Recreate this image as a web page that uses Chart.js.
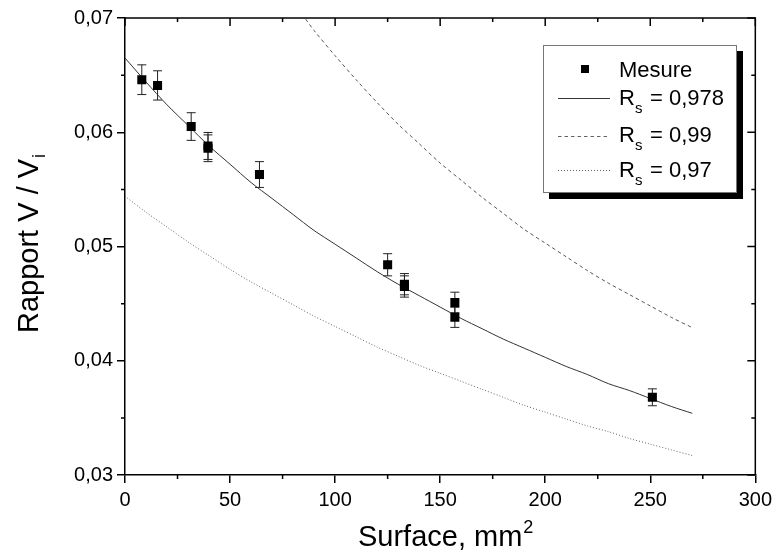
<!DOCTYPE html>
<html>
<head>
<meta charset="utf-8">
<script src="https://cdn.jsdelivr.net/npm/chart.js@4.4.0/dist/chart.umd.min.js"></script>
<style>
  html, body { margin: 0; padding: 0; background: #fff; }
  canvas { display: block; }
</style>
</head>
<body>
<canvas id="chart" width="777" height="551"></canvas>
<script>
// measured points (surface mm2, ratio, error)
const mesureS = [8, 15.5, 31.5, 39.5, 39.5, 64, 125, 133, 133, 157, 157, 251];
const mesureV = [0.0646, 0.0641, 0.0605, 0.0588, 0.0586, 0.0563, 0.0484, 0.0467, 0.0465, 0.0451, 0.0438, 0.0368];
const mesureErr = [0.0013, 0.00128, 0.00121, 0.00118, 0.00117, 0.00113, 0.00097, 0.00093, 0.00093, 0.0009, 0.00088, 0.00074];

// model curves
const curveS = [0, 10, 20, 30, 40, 50, 60, 70, 80, 90, 100, 110, 120, 130, 140, 150, 160, 170, 180, 190, 200, 210, 220, 230, 240, 250, 260, 270];
const rs978 = [0.0665, 0.0644, 0.0624, 0.0606, 0.0588, 0.0572, 0.0556, 0.0542, 0.0528, 0.0514, 0.0502, 0.0490, 0.0478, 0.0467, 0.0457, 0.0447, 0.0437, 0.0428, 0.0419, 0.0411, 0.0403, 0.0395, 0.0388, 0.0380, 0.0374, 0.0367, 0.0360, 0.0354];
const rs97 = [0.0544, 0.0530, 0.0517, 0.0504, 0.0492, 0.0480, 0.0469, 0.0459, 0.0449, 0.0439, 0.0430, 0.0421, 0.0412, 0.0404, 0.0396, 0.0389, 0.0382, 0.0375, 0.0368, 0.0361, 0.0355, 0.0349, 0.0343, 0.0338, 0.0332, 0.0327, 0.0322, 0.0317];
const dashS = [86, 90, 100, 110, 120, 130, 140, 150, 160, 170, 180, 190, 200, 210, 220, 230, 240, 250, 260, 270];
const rs99 = [0.0699, 0.0689, 0.0667, 0.0646, 0.0626, 0.0607, 0.0590, 0.0573, 0.0558, 0.0543, 0.0529, 0.0515, 0.0503, 0.0491, 0.0479, 0.0468, 0.0458, 0.0448, 0.0438, 0.0429];

const legendValues = ['0,978', '0,99', '0,97'];

const FONT = '"Liberation Sans", Arial, sans-serif';

function pts(xs, ys) {
    return xs.map((x, i) => ({x: x, y: ys[i]}));
}

const errorBars = {
    id: 'errorBars',
    beforeDatasetsDraw(chart) {
        const ctx = chart.ctx;
        const sx = chart.scales.x, sy = chart.scales.y;
        ctx.save();
        ctx.strokeStyle = '#222';
        ctx.lineWidth = 1;
        mesureS.forEach((s, i) => {
            const px = sx.getPixelForValue(s);
            const top = sy.getPixelForValue(mesureV[i] + mesureErr[i]);
            const bot = sy.getPixelForValue(mesureV[i] - mesureErr[i]);
            ctx.beginPath();
            ctx.moveTo(px, top); ctx.lineTo(px, bot);
            ctx.moveTo(px - 4.5, top); ctx.lineTo(px + 4.5, top);
            ctx.moveTo(px - 4.5, bot); ctx.lineTo(px + 4.5, bot);
            ctx.stroke();
        });
        ctx.restore();
    }
};

const frame = {
    id: 'frame',
    afterDraw(chart) {
        const ctx = chart.ctx;
        const a = chart.chartArea;
        const sx = chart.scales.x, sy = chart.scales.y;
        ctx.save();
        ctx.strokeStyle = '#000';
        ctx.lineWidth = 1.5;
        ctx.beginPath();
        ctx.moveTo(a.left, a.top); ctx.lineTo(a.right, a.top); ctx.lineTo(a.right, a.bottom);
        ctx.stroke();
        // inward major ticks on top and right
        sx.ticks.forEach(t => {
            const p = sx.getPixelForValue(t.value);
            ctx.beginPath(); ctx.moveTo(p, a.top); ctx.lineTo(p, a.top + 8); ctx.stroke();
        });
        sy.ticks.forEach(t => {
            const p = sy.getPixelForValue(t.value);
            ctx.beginPath(); ctx.moveTo(a.right, p); ctx.lineTo(a.right - 8, p); ctx.stroke();
        });
        // minor ticks
        for (let v = 25; v < 300; v += 50) {
            const p = sx.getPixelForValue(v);
            ctx.beginPath();
            ctx.moveTo(p, a.top); ctx.lineTo(p, a.top + 4);
            ctx.moveTo(p, a.bottom); ctx.lineTo(p, a.bottom + 4);
            ctx.stroke();
        }
        for (let v = 0.035; v < 0.07; v += 0.01) {
            const p = sy.getPixelForValue(v);
            ctx.beginPath();
            ctx.moveTo(a.left, p); ctx.lineTo(a.left - 4, p);
            ctx.moveTo(a.right, p); ctx.lineTo(a.right - 4, p);
            ctx.stroke();
        }

        // axis titles
        ctx.fillStyle = '#000';
        ctx.font = '29px ' + FONT;
        ctx.textBaseline = 'alphabetic';
        ctx.textAlign = 'left';
        const xt = 'Surface, mm';
        const xw = ctx.measureText(xt).width;
        const xc = (a.left + a.right) / 2;
        ctx.fillText(xt, xc - xw / 2, 546);
        ctx.font = '18px ' + FONT;
        ctx.fillText('2', xc + xw / 2 + 1, 533);

        ctx.save();
        ctx.translate(38, 333);
        ctx.rotate(-Math.PI / 2);
        ctx.font = '29px ' + FONT;
        const yt = 'Rapport V / V';
        const yw = ctx.measureText(yt).width;
        ctx.fillText(yt, 0, 0);
        ctx.font = '18px ' + FONT;
        ctx.fillText('i', yw + 1, 7);
        ctx.restore();

        ctx.restore();
    }
};

const boxLegend = {
    id: 'boxLegend',
    afterDraw(chart) {
        const ctx = chart.ctx;
        const x0 = 543, y0 = 45, w = 194, h = 148;
        ctx.save();
        ctx.fillStyle = '#000';
        ctx.fillRect(x0 + 6, y0 + 6, w, h);
        ctx.fillStyle = '#fff';
        ctx.fillRect(x0, y0, w, h);
        ctx.strokeStyle = '#777';
        ctx.lineWidth = 1;
        ctx.strokeRect(x0 + 0.5, y0 + 0.5, w - 1, h - 1);

        ctx.fillStyle = '#000';
        ctx.fillRect(581, 65, 8, 8);
        ctx.font = '22px ' + FONT;
        ctx.textBaseline = 'alphabetic';
        ctx.fillText('Mesure', 619, 77);

        const rows = [105, 141.5, 176.5];
        const lineY = [98.5, 136.5, 170.5];
        const dashes = [[], [3.5, 3], [1, 2]];
        const colors = ['#333', '#666', '#666'];
        rows.forEach((b, i) => {
            ctx.strokeStyle = colors[i];
            ctx.lineWidth = 1;
            ctx.setLineDash(dashes[i]);
            ctx.beginPath(); ctx.moveTo(558, lineY[i]); ctx.lineTo(610, lineY[i]); ctx.stroke();
            ctx.setLineDash([]);
            ctx.font = '22px ' + FONT;
            ctx.fillText('R', 619, b);
            const rw = ctx.measureText('R').width;
            ctx.font = '15px ' + FONT;
            ctx.fillText('s', 619 + rw, b + 8);
            ctx.font = '22px ' + FONT;
            ctx.fillText('= ' + legendValues[i], 650, b);
        });
        ctx.restore();
    }
};

new Chart(document.getElementById('chart'), {
    type: 'scatter',
    data: {
        datasets: [
            {
                label: 'Mesure',
                data: pts(mesureS, mesureV),
                showLine: false,
                pointStyle: 'rect',
                pointRadius: 6.4,
                backgroundColor: '#000',
                borderColor: '#000',
                borderWidth: 0
            },
            {
                label: 'Rs = 0,978',
                data: pts(curveS, rs978),
                showLine: true,
                pointRadius: 0,
                borderColor: '#333',
                borderWidth: 1,
                tension: 0.3
            },
            {
                label: 'Rs = 0,99',
                data: pts(dashS, rs99),
                showLine: true,
                pointRadius: 0,
                borderColor: '#555',
                borderWidth: 1,
                borderDash: [3.5, 3],
                tension: 0.3
            },
            {
                label: 'Rs = 0,97',
                data: pts(curveS, rs97),
                showLine: true,
                pointRadius: 0,
                borderColor: '#666',
                borderWidth: 1,
                borderDash: [1, 2],
                tension: 0.3
            }
        ]
    },
    options: {
        responsive: false,
        animation: false,
        events: [],
        layout: {padding: {left: 0, top: 18, right: 17, bottom: 0}},
        plugins: {
            legend: {display: false},
            tooltip: {enabled: false}
        },
        scales: {
            x: {
                type: 'linear',
                min: 0,
                max: 300,
                ticks: {
                    stepSize: 50,
                    color: '#000',
                    padding: 5,
                    maxRotation: 0,
                    autoSkip: false,
                    font: {family: FONT, size: 20}
                },
                grid: {drawOnChartArea: false, color: '#000', lineWidth: 1.5, tickLength: 8},
                border: {display: true, color: '#000', width: 1.5},
                afterFit(scale) { scale.height = 76; }
            },
            y: {
                min: 0.03,
                max: 0.07,
                ticks: {
                    stepSize: 0.01,
                    color: '#000',
                    padding: 4,
                    autoSkip: false,
                    font: {family: FONT, size: 20},
                    callback: v => v.toFixed(2).replace('.', ',')
                },
                grid: {drawOnChartArea: false, color: '#000', lineWidth: 1.5, tickLength: 8},
                border: {display: true, color: '#000', width: 1.5},
                afterFit(scale) { scale.width = 125; }
            }
        }
    },
    plugins: [errorBars, frame, boxLegend]
});
</script>
</body>
</html>
